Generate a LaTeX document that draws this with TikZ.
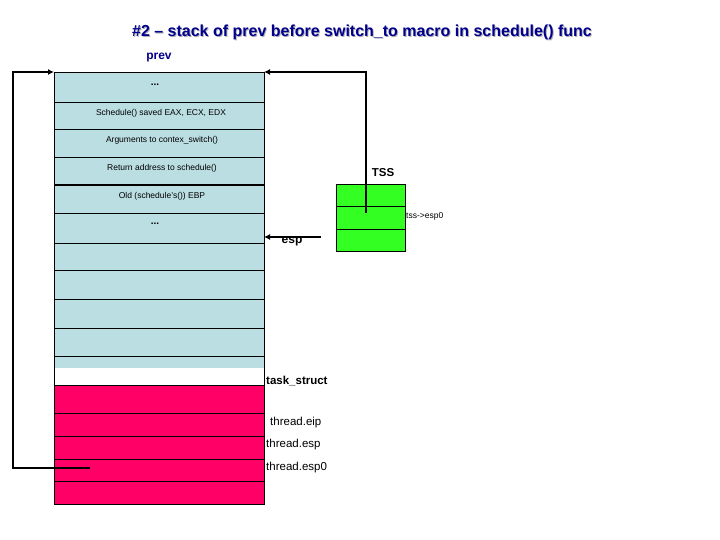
\documentclass[tikz,border=0pt]{standalone}
\usepackage{fontspec}
\setmainfont{Liberation Sans}
\usetikzlibrary{arrows.meta}
\definecolor{stk}{RGB}{187,222,226}
\definecolor{tsk}{RGB}{255,0,102}
\definecolor{tssg}{RGB}{51,255,34}
\definecolor{ttl}{RGB}{0,0,140}
\tikzset{
  small/.style={font=\fontsize{8.5}{10}\selectfont},
  lbl/.style={font=\fontsize{11.5}{13}\selectfont, anchor=west, inner sep=0},
  ptr/.style={line width=2.2pt, -{Latex[length=6pt,width=6pt]}},
}
\begin{document}
\begin{tikzpicture}[x=1pt,y=-1pt]
\useasboundingbox (0,0) rectangle (720,540);
% title
\node[font=\bfseries\fontsize{16}{18}\selectfont, text=gray!60] at (363,33) {\#2 -- stack of prev before switch\_to macro in schedule() func};
\node[font=\bfseries\fontsize{16}{18}\selectfont, text=ttl] (title) at (362,32) {\#2 -- stack of prev before switch\_to macro in schedule() func};
\node[font=\bfseries\fontsize{12}{14}\selectfont, text=ttl] (prev) at (159,58) {prev};
% stack
\fill[stk] (54,72) rectangle (264,368);
\fill[tsk] (54,385) rectangle (264,504);
\draw[line width=0.8pt] (54,72) -- (54,504) -- (264,504) -- (264,72) -- cycle;
\foreach \y in {102,129,157,213,243,270,299,328,356} \draw[line width=0.8pt] (54,\y) -- (264,\y);
\draw[line width=1.4pt] (54,185) -- (264,185);
\draw[line width=0.8pt] (54,385) -- (264,385);
\foreach \y in {413,436,459,481} \draw[line width=0.8pt] (54,\y) -- (264,\y);
\node[font=\bfseries] (d1) at (155,85) {...};
\node[small] (r1) at (161,113) {Schedule() saved EAX, ECX, EDX};
\node[small] (r2) at (162,140) {Arguments to contex\_switch()};
\node[small] (r3) at (162,168) {Return address to schedule()};
\node[small] (r4) at (162,196) {Old (schedule's()) EBP};
\node[font=\bfseries] (d2) at (155,224) {...};
% TSS
\fill[tssg] (336,184) rectangle (405,251);
\draw[line width=0.8pt] (336,184) rectangle (405,251);
\draw[line width=0.8pt] (336,206) -- (405,206) (336,229) -- (405,229);
\node[font=\bfseries\fontsize{11.5}{13}\selectfont] (tss) at (383,173) {TSS};
\node[small, anchor=west, inner sep=0] (tsse) at (406,216) {tss->esp0};
% labels
\node[font=\bfseries\fontsize{12}{14}\selectfont] (esp) at (292,242) {esp};
\node[lbl, font=\bfseries\fontsize{11.5}{13}\selectfont] (ts) at (266,381) {task\_struct};
\node[lbl] (te) at (270,423) {thread.eip};
\node[lbl] (tp) at (266,445) {thread.esp};
\node[lbl] (t0) at (266,468) {thread.esp0};
% pointers
\coordinate (a0) at (90,468);
\coordinate (a1) at (54,72);
\draw[ptr] (a0) -- (13,468) -- (13,72) -- (a1);
\coordinate (b0) at (366,213);
\coordinate (b1) at (264,72);
\draw[ptr] (b0) -- (366,72) -- (b1);
\coordinate (c0) at (321,237);
\coordinate (c1) at (264,237);
\draw[ptr] (c0) -- (c1);
\end{tikzpicture}
\end{document}
